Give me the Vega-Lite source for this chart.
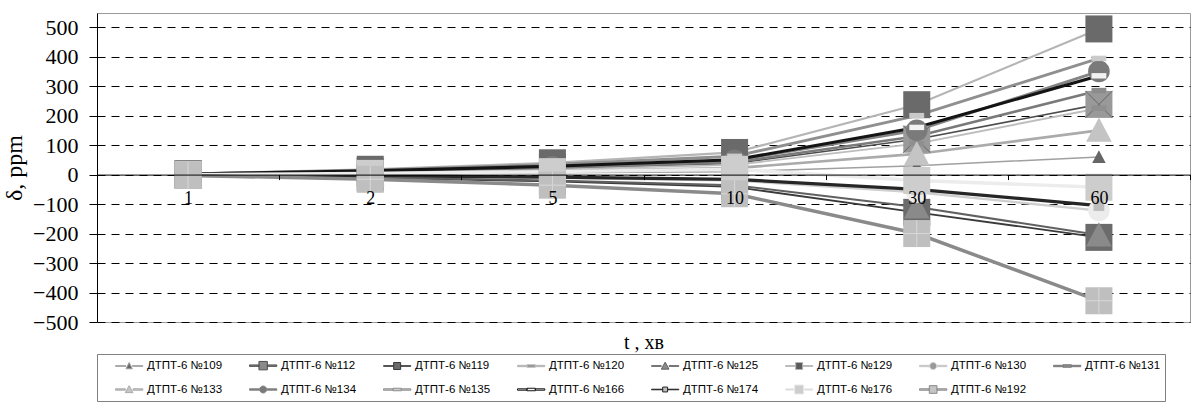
{
  "$schema": "https://vega.github.io/schema/vega-lite/v6.json",
  "width": 1093,
  "height": 309,
  "padding": {"left": 2, "top": 13, "right": 0, "bottom": 0},
  "background": "white",
  "config": {"view": {"stroke": "#9a9a9a", "strokeWidth": 1}},
  "datasets": {
    "main": [
      {"series": "ДТПТ-6 №109", "t": 1, "delta": 0}, {"series": "ДТПТ-6 №109", "t": 2, "delta": 3}, {"series": "ДТПТ-6 №109", "t": 5, "delta": 6}, {"series": "ДТПТ-6 №109", "t": 10, "delta": 10}, {"series": "ДТПТ-6 №109", "t": 30, "delta": 30}, {"series": "ДТПТ-6 №109", "t": 60, "delta": 60},
      {"series": "ДТПТ-6 №112", "t": 1, "delta": 1}, {"series": "ДТПТ-6 №112", "t": 2, "delta": 9}, {"series": "ДТПТ-6 №112", "t": 5, "delta": 21}, {"series": "ДТПТ-6 №112", "t": 10, "delta": 38}, {"series": "ДТПТ-6 №112", "t": 30, "delta": 120}, {"series": "ДТПТ-6 №112", "t": 60, "delta": 238},
      {"series": "ДТПТ-6 №119", "t": 1, "delta": -2}, {"series": "ДТПТ-6 №119", "t": 2, "delta": -11}, {"series": "ДТПТ-6 №119", "t": 5, "delta": -23}, {"series": "ДТПТ-6 №119", "t": 10, "delta": -42}, {"series": "ДТПТ-6 №119", "t": 30, "delta": -128}, {"series": "ДТПТ-6 №119", "t": 60, "delta": -213},
      {"series": "ДТПТ-6 №120", "t": 1, "delta": 1}, {"series": "ДТПТ-6 №120", "t": 2, "delta": 8}, {"series": "ДТПТ-6 №120", "t": 5, "delta": 18}, {"series": "ДТПТ-6 №120", "t": 10, "delta": 33}, {"series": "ДТПТ-6 №120", "t": 30, "delta": 105}, {"series": "ДТПТ-6 №120", "t": 60, "delta": 225},
      {"series": "ДТПТ-6 №125", "t": 1, "delta": -1}, {"series": "ДТПТ-6 №125", "t": 2, "delta": -9}, {"series": "ДТПТ-6 №125", "t": 5, "delta": -20}, {"series": "ДТПТ-6 №125", "t": 10, "delta": -36}, {"series": "ДТПТ-6 №125", "t": 30, "delta": -110}, {"series": "ДТПТ-6 №125", "t": 60, "delta": -205},
      {"series": "ДТПТ-6 №129", "t": 1, "delta": 3}, {"series": "ДТПТ-6 №129", "t": 2, "delta": 18}, {"series": "ДТПТ-6 №129", "t": 5, "delta": 40}, {"series": "ДТПТ-6 №129", "t": 10, "delta": 75}, {"series": "ДТПТ-6 №129", "t": 30, "delta": 237}, {"series": "ДТПТ-6 №129", "t": 60, "delta": 494},
      {"series": "ДТПТ-6 №130", "t": 1, "delta": -1}, {"series": "ДТПТ-6 №130", "t": 2, "delta": -5}, {"series": "ДТПТ-6 №130", "t": 5, "delta": -11}, {"series": "ДТПТ-6 №130", "t": 10, "delta": -20}, {"series": "ДТПТ-6 №130", "t": 30, "delta": -60}, {"series": "ДТПТ-6 №130", "t": 60, "delta": -122},
      {"series": "ДТПТ-6 №131", "t": 1, "delta": 2}, {"series": "ДТПТ-6 №131", "t": 2, "delta": 10}, {"series": "ДТПТ-6 №131", "t": 5, "delta": 23}, {"series": "ДТПТ-6 №131", "t": 10, "delta": 42}, {"series": "ДТПТ-6 №131", "t": 30, "delta": 130}, {"series": "ДТПТ-6 №131", "t": 60, "delta": 285},
      {"series": "ДТПТ-6 №133", "t": 1, "delta": 1}, {"series": "ДТПТ-6 №133", "t": 2, "delta": 5}, {"series": "ДТПТ-6 №133", "t": 5, "delta": 12}, {"series": "ДТПТ-6 №133", "t": 10, "delta": 22}, {"series": "ДТПТ-6 №133", "t": 30, "delta": 70}, {"series": "ДТПТ-6 №133", "t": 60, "delta": 150},
      {"series": "ДТПТ-6 №134", "t": 1, "delta": 2}, {"series": "ДТПТ-6 №134", "t": 2, "delta": 12}, {"series": "ДТПТ-6 №134", "t": 5, "delta": 26}, {"series": "ДТПТ-6 №134", "t": 10, "delta": 48}, {"series": "ДТПТ-6 №134", "t": 30, "delta": 150}, {"series": "ДТПТ-6 №134", "t": 60, "delta": 350},
      {"series": "ДТПТ-6 №135", "t": 1, "delta": 2}, {"series": "ДТПТ-6 №135", "t": 2, "delta": 15}, {"series": "ДТПТ-6 №135", "t": 5, "delta": 34}, {"series": "ДТПТ-6 №135", "t": 10, "delta": 62}, {"series": "ДТПТ-6 №135", "t": 30, "delta": 200}, {"series": "ДТПТ-6 №135", "t": 60, "delta": 394},
      {"series": "ДТПТ-6 №166", "t": 1, "delta": 2}, {"series": "ДТПТ-6 №166", "t": 2, "delta": 13}, {"series": "ДТПТ-6 №166", "t": 5, "delta": 28}, {"series": "ДТПТ-6 №166", "t": 10, "delta": 50}, {"series": "ДТПТ-6 №166", "t": 30, "delta": 160}, {"series": "ДТПТ-6 №166", "t": 60, "delta": 335},
      {"series": "ДТПТ-6 №174", "t": 1, "delta": -1}, {"series": "ДТПТ-6 №174", "t": 2, "delta": -4}, {"series": "ДТПТ-6 №174", "t": 5, "delta": -9}, {"series": "ДТПТ-6 №174", "t": 10, "delta": -16}, {"series": "ДТПТ-6 №174", "t": 30, "delta": -50}, {"series": "ДТПТ-6 №174", "t": 60, "delta": -105},
      {"series": "ДТПТ-6 №176", "t": 1, "delta": 0}, {"series": "ДТПТ-6 №176", "t": 2, "delta": 4}, {"series": "ДТПТ-6 №176", "t": 5, "delta": 10}, {"series": "ДТПТ-6 №176", "t": 10, "delta": 18}, {"series": "ДТПТ-6 №176", "t": 30, "delta": -20}, {"series": "ДТПТ-6 №176", "t": 60, "delta": -43},
      {"series": "ДТПТ-6 №192", "t": 1, "delta": -3}, {"series": "ДТПТ-6 №192", "t": 2, "delta": -16}, {"series": "ДТПТ-6 №192", "t": 5, "delta": -36}, {"series": "ДТПТ-6 №192", "t": 10, "delta": -65}, {"series": "ДТПТ-6 №192", "t": 30, "delta": -200}, {"series": "ДТПТ-6 №192", "t": 60, "delta": -428}
    ]
  },
  "data": {"name": "main"},
  "encoding": {
    "x": {
      "field": "t", "type": "ordinal",
      "scale": {"type": "band", "domain": [1, 2, 5, 10, 30, 60], "paddingInner": 0, "paddingOuter": 0},
      "axis": {
        "title": "t , хв", "titleFont": "Liberation Serif", "titleFontSize": 20, "titleFontWeight": "normal", "titleColor": "black",
        "titleY": 174, "titleBaseline": "alphabetic",
        "labelFont": "Liberation Serif", "labelFontSize": 18, "labelColor": "black", "labelAngle": 0, "labelPadding": 10,
        "offset": -147.4, "tickBand": "extent", "tickSize": 5, "tickColor": "black", "domainColor": "black", "grid": false, "zindex": 1
      }
    },
    "y": {
      "field": "delta", "type": "quantitative",
      "scale": {"domain": [-500, 548], "nice": false, "zero": false},
      "axis": {
        "title": "δ, ppm", "titleFont": "Liberation Serif", "titleFontSize": 24, "titleFontWeight": "normal", "titleColor": "black", "titlePadding": 6,
        "labelFont": "Liberation Serif", "labelFontSize": 22, "labelColor": "black", "labelPadding": 11,
        "values": [-500, -400, -300, -200, -100, 0, 100, 200, 300, 400, 500],
        "tickColor": "black", "tickSize": 8, "domainColor": "black",
        "grid": true, "gridColor": "black", "gridDash": [8, 6], "gridWidth": 1, "gridOpacity": 1
      }
    }
  },
  "layer": [
    {
      "mark": {"type": "line", "opacity": 1},
      "encoding": {
        "stroke": {"field": "series", "type": "nominal", "legend": null,
          "scale": {"domain": ["ДТПТ-6 №109", "ДТПТ-6 №112", "ДТПТ-6 №119", "ДТПТ-6 №120", "ДТПТ-6 №125", "ДТПТ-6 №129", "ДТПТ-6 №130", "ДТПТ-6 №131", "ДТПТ-6 №133", "ДТПТ-6 №134", "ДТПТ-6 №135", "ДТПТ-6 №166", "ДТПТ-6 №174", "ДТПТ-6 №176", "ДТПТ-6 №192"],
            "range": ["#a0a0a0", "#4d4d4d", "#3a3a3a", "#bdbdbd", "#606060", "#b5b5b5", "#cfcfcf", "#7a7a7a", "#ababab", "#858585", "#8f8f8f", "#141414", "#262626", "#ececec", "#8a8a8a"]}},
        "strokeWidth": {"field": "series", "type": "nominal", "legend": null,
          "scale": {"domain": ["ДТПТ-6 №109", "ДТПТ-6 №112", "ДТПТ-6 №119", "ДТПТ-6 №120", "ДТПТ-6 №125", "ДТПТ-6 №129", "ДТПТ-6 №130", "ДТПТ-6 №131", "ДТПТ-6 №133", "ДТПТ-6 №134", "ДТПТ-6 №135", "ДТПТ-6 №166", "ДТПТ-6 №174", "ДТПТ-6 №176", "ДТПТ-6 №192"],
            "range": [1.5, 3.5, 2, 3.5, 1.5, 2.5, 3, 3.5, 3.5, 3.5, 3.5, 3.5, 1.5, 3.5, 3.5]}}
      }
    },
    {
      "transform": [{"filter": {"field": "series", "oneOf": ["ДТПТ-6 №109", "ДТПТ-6 №112"]}}],
      "mark": {"type": "point", "filled": true, "size": 729, "strokeWidth": 0, "opacity": 1},
      "encoding": {
        "shape": {"field": "series", "type": "nominal", "legend": null,
          "scale": {"domain": ["ДТПТ-6 №109", "ДТПТ-6 №112"], "range": ["M0,-0.5L0.5,0.45H-0.5Z", "M-1,-1H1V1H-1Z"]}},
        "fill": {"field": "series", "type": "nominal", "legend": null,
          "scale": {"domain": ["ДТПТ-6 №109", "ДТПТ-6 №112"], "range": ["#666666", "#999999"]}}
      }
    },
    {
      "transform": [{"filter": "datum.series === 'ДТПТ-6 №112'"}],
      "mark": {"type": "point", "filled": false, "size": 729, "shape": "M-1,-1L1,1M1,-1L-1,1", "stroke": "#666666", "strokeWidth": 1, "opacity": 1}
    },
    {
      "transform": [{"filter": {"not": {"field": "series", "oneOf": ["ДТПТ-6 №109", "ДТПТ-6 №112"]}}}],
      "mark": {"type": "point", "filled": true, "size": 729, "strokeWidth": 0, "opacity": 1},
      "encoding": {
        "shape": {"field": "series", "type": "nominal", "legend": null,
          "scale": {"domain": ["ДТПТ-6 №119", "ДТПТ-6 №120", "ДТПТ-6 №125", "ДТПТ-6 №129", "ДТПТ-6 №130", "ДТПТ-6 №131", "ДТПТ-6 №133", "ДТПТ-6 №134", "ДТПТ-6 №135", "ДТПТ-6 №166", "ДТПТ-6 №174", "ДТПТ-6 №176", "ДТПТ-6 №192"],
            "range": [
            "M-1,-1H1V1H-1Z",
            "M-0.55,-0.2H0.55V0.2H-0.55Z",
            "M0,-0.95L0.95,0.85H-0.95Z",
            "M-1,-1H1V1H-1Z",
            "M-0.8,0A0.8,0.8 0 1,1 0.8,0A0.8,0.8 0 1,1 -0.8,0Z",
            "M-0.55,-0.2H0.55V0.2H-0.55Z",
            "M0,-0.95L0.95,0.85H-0.95Z",
            "M-0.8,0A0.8,0.8 0 1,1 0.8,0A0.8,0.8 0 1,1 -0.8,0Z",
            "M-0.55,-0.2H0.55V0.2H-0.55Z",
            "M-0.55,-0.2H0.55V0.2H-0.55Z",
            "M-0.4,-0.4H0.4V0.4H-0.4Z",
            "M-1,-1H1V1H-1Z",
            "M-1,-1H1V1H-1Z"
          ]}},
        "fill": {"field": "series", "type": "nominal", "legend": null,
          "scale": {"domain": ["ДТПТ-6 №119", "ДТПТ-6 №120", "ДТПТ-6 №125", "ДТПТ-6 №129", "ДТПТ-6 №130", "ДТПТ-6 №131", "ДТПТ-6 №133", "ДТПТ-6 №134", "ДТПТ-6 №135", "ДТПТ-6 №166", "ДТПТ-6 №174", "ДТПТ-6 №176", "ДТПТ-6 №192"],
            "range": ["#6b6b6b", "#8f8f8f", "#8a8a8a", "#6a6a6a", "#ececec", "#8c8c8c", "#c4c4c4", "#7a7a7a", "#cacaca", "#f2f2f2", "#bdbdbd", "#cdcdcd", "#bfbfbf"]}}
      }
    },
    {
      "transform": [{"filter": "datum.series === 'ДТПТ-6 №192'"}],
      "mark": {"type": "point", "filled": false, "size": 729, "shape": "M0,-1V1M-1,0H1", "stroke": "#d8d8d8", "strokeWidth": 1, "opacity": 1}
    },
    {
      "mark": {"type": "point", "filled": true, "size": 196, "opacity": 0, "strokeWidth": 1},
      "encoding": {
        "shape": {"field": "series", "type": "nominal",
          "legend": {"title": null, "orient": "bottom", "direction": "horizontal", "columns": 8, "symbolSize": 196, "symbolStrokeWidth": 1, "symbolOpacity": 1, "labelFont": "Liberation Sans", "labelFontSize": 11.5, "labelColor": "black", "columnPadding": 12, "rowPadding": 10, "padding": 4, "strokeColor": "#7f7f7f", "offset": 1, "labelOffset": 31, "labelLimit": 200},
          "scale": {"domain": ["ДТПТ-6 №109", "ДТПТ-6 №112", "ДТПТ-6 №119", "ДТПТ-6 №120", "ДТПТ-6 №125", "ДТПТ-6 №129", "ДТПТ-6 №130", "ДТПТ-6 №131", "ДТПТ-6 №133", "ДТПТ-6 №134", "ДТПТ-6 №135", "ДТПТ-6 №166", "ДТПТ-6 №174", "ДТПТ-6 №176", "ДТПТ-6 №192"],
            "range": [
            "M1,-0.04H2.5V0.04H1Z M3.4,-0.04H4.9V0.04H3.4Z M2.95,-0.5L3.4,0.4H2.5Z",
            "M1,-0.1H2.35V0.1H1Z M3.55,-0.1H4.9V0.1H3.55Z M2.35,-0.6H3.55V0.6H2.35Z",
            "M1,-0.04H2.45V0.04H1Z M3.45,-0.04H4.9V0.04H3.45Z M2.45,-0.5H3.45V0.5H2.45Z",
            "M1,-0.1H2.35V0.1H1Z M3.55,-0.1H4.9V0.1H3.55Z M2.35,-0.18H3.55V0.18H2.35Z",
            "M1,-0.04H2.4V0.04H1Z M3.5,-0.04H4.9V0.04H3.5Z M2.95,-0.55L3.5,0.45H2.4Z",
            "M1,-0.04H2.45V0.04H1Z M3.45,-0.04H4.9V0.04H3.45Z M2.45,-0.5H3.45V0.5H2.45Z",
            "M1,-0.1H2.45V0.1H1Z M3.45,-0.1H4.9V0.1H3.45Z M2.45,0A0.5,0.5 0 1,1 3.45,0A0.5,0.5 0 1,1 2.45,0Z",
            "M1,-0.1H2.35V0.1H1Z M3.55,-0.1H4.9V0.1H3.55Z M2.35,-0.18H3.55V0.18H2.35Z",
            "M1,-0.1H2.4V0.1H1Z M3.5,-0.1H4.9V0.1H3.5Z M2.95,-0.55L3.5,0.45H2.4Z",
            "M1,-0.1H2.45V0.1H1Z M3.45,-0.1H4.9V0.1H3.45Z M2.45,0A0.5,0.5 0 1,1 3.45,0A0.5,0.5 0 1,1 2.45,0Z",
            "M1,-0.1H2.35V0.1H1Z M3.55,-0.1H4.9V0.1H3.55Z M2.35,-0.18H3.55V0.18H2.35Z",
            "M1,-0.1H2.35V0.1H1Z M3.55,-0.1H4.9V0.1H3.55Z M2.35,-0.18H3.55V0.18H2.35Z",
            "M1,-0.04H2.6V0.04H1Z M3.3,-0.04H4.9V0.04H3.3Z M2.6,-0.35H3.3V0.35H2.6Z",
            "M1,-0.1H2.3V0.1H1Z M3.6,-0.1H4.9V0.1H3.6Z M2.3,-0.65H3.6V0.65H2.3Z",
            "M1,-0.1H2.4V0.1H1Z M3.5,-0.1H4.9V0.1H3.5Z M2.4,-0.55H3.5V0.55H2.4Z"
          ]}},
        "fill": {"field": "series", "type": "nominal",
          "legend": {"title": null, "orient": "bottom", "direction": "horizontal", "columns": 8, "symbolSize": 196, "symbolStrokeWidth": 1, "symbolOpacity": 1, "labelFont": "Liberation Sans", "labelFontSize": 11.5, "labelColor": "black", "columnPadding": 12, "rowPadding": 10, "padding": 4, "strokeColor": "#7f7f7f", "offset": 1, "labelOffset": 31, "labelLimit": 200},
          "scale": {"domain": ["ДТПТ-6 №109", "ДТПТ-6 №112", "ДТПТ-6 №119", "ДТПТ-6 №120", "ДТПТ-6 №125", "ДТПТ-6 №129", "ДТПТ-6 №130", "ДТПТ-6 №131", "ДТПТ-6 №133", "ДТПТ-6 №134", "ДТПТ-6 №135", "ДТПТ-6 №166", "ДТПТ-6 №174", "ДТПТ-6 №176", "ДТПТ-6 №192"],
            "range": ["#666666", "#8a8a8a", "#6b6b6b", "#8f8f8f", "#8a8a8a", "#5a5a5a", "#999999", "#8c8c8c", "#c4c4c4", "#7a7a7a", "#cacaca", "#f2f2f2", "#bdbdbd", "#cdcdcd", "#c4c4c4"]}},
        "stroke": {"field": "series", "type": "nominal",
          "legend": {"title": null, "orient": "bottom", "direction": "horizontal", "columns": 8, "symbolSize": 196, "symbolStrokeWidth": 1, "symbolOpacity": 1, "labelFont": "Liberation Sans", "labelFontSize": 11.5, "labelColor": "black", "columnPadding": 12, "rowPadding": 10, "padding": 4, "strokeColor": "#7f7f7f", "offset": 1, "labelOffset": 31, "labelLimit": 200},
          "scale": {"domain": ["ДТПТ-6 №109", "ДТПТ-6 №112", "ДТПТ-6 №119", "ДТПТ-6 №120", "ДТПТ-6 №125", "ДТПТ-6 №129", "ДТПТ-6 №130", "ДТПТ-6 №131", "ДТПТ-6 №133", "ДТПТ-6 №134", "ДТПТ-6 №135", "ДТПТ-6 №166", "ДТПТ-6 №174", "ДТПТ-6 №176", "ДТПТ-6 №192"],
            "range": ["#a0a0a0", "#4d4d4d", "#3a3a3a", "#bdbdbd", "#606060", "#b5b5b5", "#cfcfcf", "#7a7a7a", "#ababab", "#858585", "#8f8f8f", "#141414", "#262626", "#ececec", "#8a8a8a"]}}
      }
    }
  ],
  "resolve": {"scale": {"shape": "independent", "fill": "independent", "stroke": "independent"}}
}
